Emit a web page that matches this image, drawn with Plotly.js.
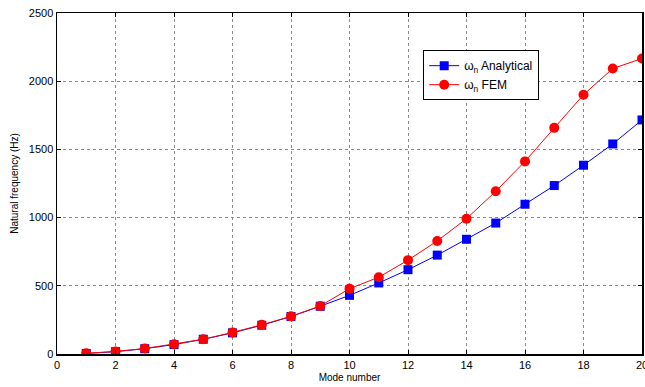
<!DOCTYPE html>
<html>
<head>
<meta charset="utf-8">
<script src="https://cdn.plot.ly/plotly-3.0.1.min.js"></script>
<style>html,body{margin:0;padding:0;background:#fff;}#chart{width:645px;height:387px;}</style>
</head>
<body>
<div id="chart"></div>
<script>
var modes = [1,2,3,4,5,6,7,8,9,10,11,12,13,14,15,16,17,18,19,20];
var analytical = [4,17,39,69,108,155,211,275,350,430,521,618,725,841,960,1098,1235,1384,1540,1716];
var fem = [5,19,40,72,108,158,214,276,352,479,563,688,829,992,1193,1412,1658,1901,2093,2166];
var xTicks = [0,2,4,6,8,10,12,14,16,18,20];
var yTicks = [0,500,1000,1500,2000,2500];

var traces = [
  {x: modes, y: analytical, name: 'ω<sub>n</sub> Analytical', type: 'scatter', mode: 'lines+markers',
   line: {color: '#0000ff', width: 1}, marker: {symbol: 'square', size: 9, color: '#0000ff'}},
  {x: modes, y: fem, name: 'ω<sub>n</sub> FEM', type: 'scatter', mode: 'lines+markers',
   line: {color: '#ff0000', width: 1}, marker: {symbol: 'circle', size: 10, color: '#ff0000'}}
];

var axisCommon = {
  showline: true, linecolor: '#000', linewidth: 1.5, mirror: 'ticks',
  ticks: 'inside', ticklen: 4, tickcolor: '#000',
  showgrid: true, gridcolor: '#8a8a8a', griddash: 'dot', gridwidth: 1,
  zeroline: false, ticklabeloverflow: 'allow',
  tickfont: {family: 'Liberation Sans, Arial, sans-serif', size: 11, color: '#000'}
};

var layout = {
  width: 645, height: 387,
  margin: {l: 57, r: 3, t: 13, b: 33},
  paper_bgcolor: '#fff', plot_bgcolor: '#fff',
  font: {family: 'Liberation Sans, Arial, sans-serif', size: 11, color: '#000'},
  xaxis: Object.assign({}, axisCommon, {
    range: [0, 20], tickvals: xTicks, ticktext: xTicks.map(String),
    title: {text: 'Mode number', font: {size: 10}, standoff: 4}
  }),
  yaxis: Object.assign({}, axisCommon, {
    range: [0, 2500], tickvals: yTicks, ticktext: yTicks.map(String),
    title: {text: 'Natural frequency (Hz)', font: {size: 10}, standoff: 8}
  }),
  showlegend: true,
  legend: {x: 0.626, y: 0.891, xanchor: 'left', yanchor: 'top',
    bgcolor: '#fff', bordercolor: '#000', borderwidth: 1,
    font: {size: 12}, tracegroupgap: 2}
};

Plotly.newPlot('chart', traces, layout, {displayModeBar: false, staticPlot: true});
</script>
</body>
</html>
